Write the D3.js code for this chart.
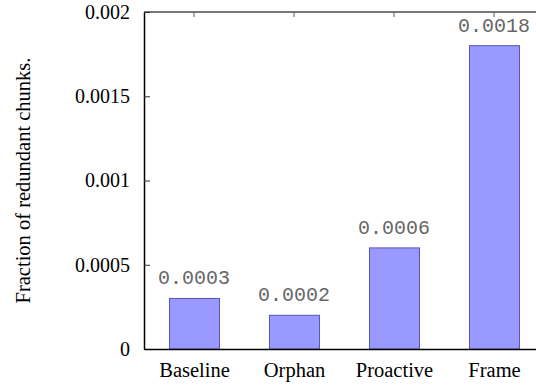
<!DOCTYPE html>
<html><head><meta charset="utf-8">
<script src="https://cdn.jsdelivr.net/npm/d3@7"></script>
<style>body{margin:0;background:#fff}svg{display:block}
.serif{font-family:"Liberation Serif","Times New Roman",Times,serif !important}
.mono{font-family:"Liberation Mono","Courier New",Courier,monospace !important}
</style>
</head><body>
<script>
const categories = ["Baseline", "Orphan", "Proactive", "Frame"];
const values = [0.0003, 0.0002, 0.0006, 0.0018];
const valueLabels = ["0.0003", "0.0002", "0.0006", "0.0018"];
const yTicks = [0, 0.0005, 0.001, 0.0015, 0.002];
const yTickLabels = ["0", "0.0005", "0.001", "0.0015", "0.002"];
const yTitle = "Fraction of redundant chunks.";

(function () {
const W = 536, H = 387;
const mLeft = 144, mTop = 12, mBottom = 349, mRight = 544;
const svg = d3.select("body").append("svg").attr("width", W).attr("height", H);

const x = d3.scaleLinear().domain([-0.5, 3.5]).range([mLeft, mRight]);
const y = d3.scaleLinear().domain([0, 0.002]).range([mBottom, mTop]);
const bw = 50;

// bars
svg.selectAll("rect.bar").data(values).enter().append("rect")
  .attr("x", (d, i) => x(i) - bw / 2 + 0.5)
  .attr("y", d => y(d))
  .attr("width", bw)
  .attr("height", d => y(0) - y(d))
  .attr("fill", "#9999ff")
  .attr("stroke", "#5555bb").attr("stroke-width", 1);

// value labels
svg.selectAll("text.val").data(values).enter().append("text")
  .attr("class", "mono")
  .attr("x", (d, i) => x(i))
  .attr("y", d => y(d) - 14)
  .attr("text-anchor", "middle")
  .style("font-size", "20px")
  .attr("fill", "#666")
  .text((d, i) => valueLabels[i]);

// frame: top border grey
svg.append("line").attr("x1", mLeft).attr("x2", mRight).attr("y1", mTop).attr("y2", mTop)
  .attr("stroke", "#777").attr("stroke-width", 2);

// top mirrored x ticks
svg.selectAll("line.tt").data(categories).enter().append("line")
  .attr("x1", (d, i) => x(i)).attr("x2", (d, i) => x(i))
  .attr("y1", mTop).attr("y2", mTop + 5)
  .attr("stroke", "#555").attr("stroke-width", 1);

// y axis
const yAxis = d3.axisLeft(y).tickValues(yTicks).tickSizeInner(-6).tickSizeOuter(0)
  .tickPadding(14).tickFormat((d, i) => yTickLabels[i]);
const gy = svg.append("g").attr("transform", `translate(${mLeft},0)`).call(yAxis)
  .attr("font-family", null).attr("font-size", null);
gy.select(".domain").attr("stroke", "#000").attr("stroke-width", 1.5);
gy.selectAll(".tick line").attr("stroke", "#333");
gy.selectAll(".tick text").attr("class", "serif")
  .style("font-size", "20px").attr("fill", "#000");

// x axis
const xAxis = d3.axisBottom(x).tickValues(d3.range(categories.length))
  .tickSize(0).tickPadding(0).tickFormat((d, i) => categories[i]);
const gx = svg.append("g").attr("transform", `translate(0,${mBottom})`).call(xAxis)
  .attr("font-family", null).attr("font-size", null);
gx.select(".domain").attr("stroke", "#000").attr("stroke-width", 1.5);
gx.selectAll(".tick text").attr("class", "serif")
  .style("font-size", "20.5px").attr("fill", "#000").attr("dy", null).attr("y", 28);

// y title
svg.append("text")
  .attr("class", "serif")
  .attr("transform", `translate(30,${(mTop + mBottom) / 2}) rotate(-90)`)
  .attr("text-anchor", "middle")
  .style("font-size", "20.5px").attr("fill", "#000")
  .text(yTitle);
})();
</script>
</body></html>
